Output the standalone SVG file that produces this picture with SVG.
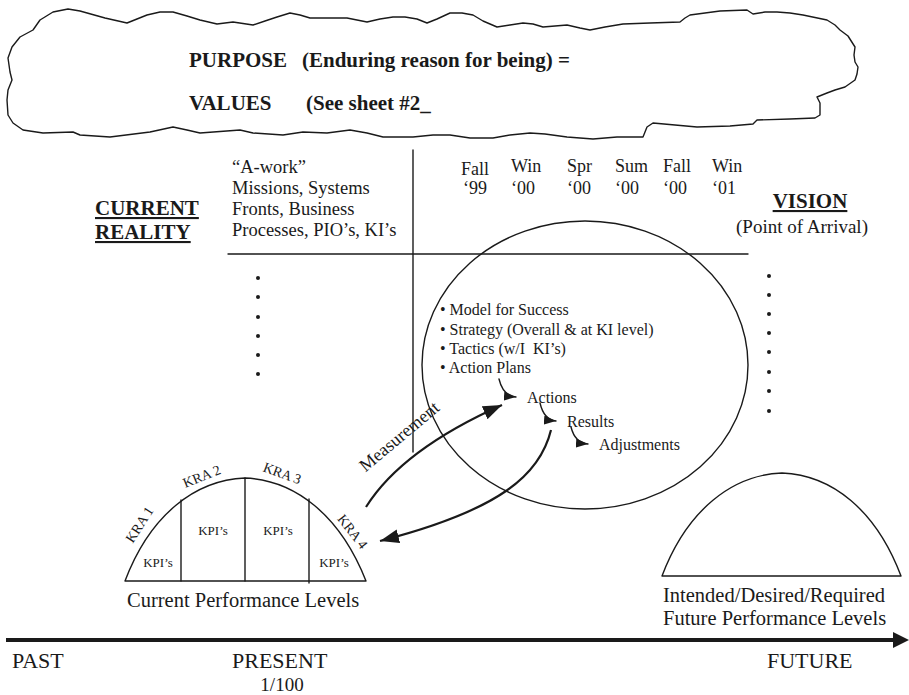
<svg xmlns="http://www.w3.org/2000/svg" width="909" height="695" viewBox="0 0 909 695">
  <style>
    text { font-family: "Liberation Serif", "Times New Roman", serif; fill: #1a1a1a; }
    .b { font-weight: bold; }
    .ln { fill: none; stroke: #1a1a1a; stroke-width: 1.4; stroke-linejoin: round; stroke-linecap: round; }
    .arw { fill: none; stroke: #1a1a1a; stroke-width: 2.2; }
    .dot { fill: #1a1a1a; }
  </style>
  <defs>
    <marker id="headS" markerUnits="userSpaceOnUse" markerWidth="13" markerHeight="10" refX="12" refY="4.5" orient="auto">
      <path d="M0,0 L12,4.5 L0,9 z" fill="#1a1a1a"/>
    </marker>
    <marker id="headL" markerUnits="userSpaceOnUse" markerWidth="20" markerHeight="16" refX="19" refY="7" orient="auto">
      <path d="M0,0 L19,7 L0,14 z" fill="#1a1a1a"/>
    </marker>
  </defs>
  <rect width="909" height="695" fill="#ffffff"/>

  <!-- cloud: purpose and values -->
  <g id="cloud">
    <path class="ln" d="M33,30 L40,20 L53,12 L68,9 L80,11 L105,18 L127,23 L137,19 L147,15 L160,12 L173,12 L187,16 L200,20 L217,24 L233,22 L253,25 L265,21 L277,17 L290,13 L300,15 L310,18 L330,18 L347,18 L357,20 L367,22 L380,19 L393,17 L405,17 L417,19 L427,23 L437,19 L450,13 L462,13 L473,15 L483,21 L497,27 L510,25 L523,23 L533,24 L543,27 L555,26 L567,25 L580,28 L590,30 L605,27 L623,24 L650,23 L680,22 L685,18 L690,15 L720,11 L747,10 L753,14 L765,12 L777,12 L790,13 L803,15 L827,20 L835,25 L840,30 L848,36 L855,47 L854,55 L855,62 L858,67 L857,74 L855,80 L845,87 L835,90 L827,93 L817,97 L820,103 L820,110 L820,115 L815,118 L790,119 L757,120 L753,124 L730,126 L697,127 L675,125 L653,123 L647,127 L643,137 L617,137 L593,139 L567,137 L545,134 L530,133 L510,135 L493,138 L470,138 L450,135 L433,135 L413,137 L383,137 L367,133 L350,130 L327,133 L303,132 L283,135 L253,133 L240,130 L200,133 L187,130 L173,127 L150,132 L110,137 L80,135 L73,132 L43,133 L23,130 L13,123 L8,115 L7,100 L8,90 L12,80 L10,72 L8,58 L12,47 L20,37 Z"/>
    <text class="b" font-size="21" y="67"><tspan x="189">PURPOSE</tspan><tspan x="302">(Enduring reason for being) =</tspan></text>
    <text class="b" font-size="21" y="110"><tspan x="189">VALUES</tspan><tspan x="306">(See sheet #2_</tspan></text>
  </g>

  <!-- axes of the planning grid -->
  <g id="grid">
    <line class="ln" x1="413" y1="150" x2="413" y2="452"/>
    <line class="ln" x1="228" y1="254" x2="748" y2="254"/>
  </g>

  <g id="current-reality">
    <text class="b" font-size="21" x="95" y="215" text-decoration="underline">CURRENT</text>
    <text class="b" font-size="21" x="95" y="239" text-decoration="underline">REALITY</text>
  </g>

  <g id="a-work">
    <text font-size="18.5" x="232" y="173">“A-work”</text>
    <text font-size="18.5" x="232" y="194">Missions, Systems</text>
    <text font-size="18.5" x="232" y="215">Fronts, Business</text>
    <text font-size="18.5" x="232" y="236">Processes, PIO’s, KI’s</text>
  </g>

  <g id="left-dots">
    <circle class="dot" cx="258" cy="278" r="2"/>
    <circle class="dot" cx="258" cy="297" r="2"/>
    <circle class="dot" cx="258" cy="317" r="2"/>
    <circle class="dot" cx="258" cy="336" r="2"/>
    <circle class="dot" cx="258" cy="355" r="2"/>
    <circle class="dot" cx="258" cy="374" r="2"/>
  </g>

  <g id="timeline-labels">
    <text font-size="18" x="461" y="175">Fall</text>
    <text font-size="18" x="511" y="172">Win</text>
    <text font-size="18" x="567" y="172">Spr</text>
    <text font-size="18" x="615" y="172">Sum</text>
    <text font-size="18" x="663" y="172">Fall</text>
    <text font-size="18" x="712" y="172">Win</text>
    <text font-size="18" x="463" y="194">‘99</text>
    <text font-size="18" x="511" y="194">‘00</text>
    <text font-size="18" x="567" y="194">‘00</text>
    <text font-size="18" x="615" y="194">‘00</text>
    <text font-size="18" x="663" y="194">‘00</text>
    <text font-size="18" x="712" y="194">‘01</text>
  </g>

  <g id="vision">
    <text class="b" font-size="21" x="810" y="208" text-anchor="middle" text-decoration="underline">VISION</text>
    <text font-size="19" x="802" y="233" text-anchor="middle">(Point of Arrival)</text>
  </g>

  <g id="right-dots">
    <circle class="dot" cx="769" cy="276" r="2"/>
    <circle class="dot" cx="769" cy="295" r="2"/>
    <circle class="dot" cx="769" cy="314" r="2"/>
    <circle class="dot" cx="769" cy="333" r="2"/>
    <circle class="dot" cx="769" cy="352" r="2"/>
    <circle class="dot" cx="769" cy="372" r="2"/>
    <circle class="dot" cx="769" cy="391" r="2"/>
    <circle class="dot" cx="769" cy="411" r="2"/>
  </g>

  <!-- planning circle -->
  <g id="plan">
    <ellipse class="ln" cx="585" cy="365" rx="163" ry="144"/>
    <text font-size="16" x="440" y="315">• Model for Success</text>
    <text font-size="16" x="440" y="335">• Strategy (Overall &amp; at KI level)</text>
    <text font-size="16" x="440" y="354" xml:space="preserve">• Tactics (w/I  KI’s)</text>
    <text font-size="16" x="440" y="373">• Action Plans</text>
    <text font-size="16" x="527" y="403">Actions</text>
    <text font-size="16" x="567" y="427">Results</text>
    <text font-size="16" x="599" y="450">Adjustments</text>
  </g>

  <!-- current performance arch -->
  <g id="current-levels">
    <path class="ln" d="M125,581 C150,515 195,480 245,478 C295,480 340,515 366,581 Z"/>
    <line class="ln" x1="181" y1="500" x2="181" y2="581"/>
    <line class="ln" x1="245" y1="478" x2="245" y2="581"/>
    <line class="ln" x1="309" y1="499" x2="309" y2="583"/>
    <text font-size="14" text-anchor="middle" transform="translate(140,525) rotate(-57)" y="4">KRA 1</text>
    <text font-size="14" text-anchor="middle" transform="translate(202,477) rotate(-22)" y="4">KRA 2</text>
    <text font-size="14" text-anchor="middle" transform="translate(282,474) rotate(20)" y="4">KRA 3</text>
    <text font-size="14" text-anchor="middle" transform="translate(352,532) rotate(52)" y="4">KRA 4</text>
    <text font-size="13" x="158" y="567" text-anchor="middle">KPI’s</text>
    <text font-size="13" x="213" y="535" text-anchor="middle">KPI’s</text>
    <text font-size="13" x="278" y="535" text-anchor="middle">KPI’s</text>
    <text font-size="13" x="334" y="567" text-anchor="middle">KPI’s</text>
    <text font-size="20.5" x="127" y="607">Current Performance Levels</text>
  </g>

  <!-- future performance arch -->
  <g id="future-levels">
    <path class="ln" d="M662,576 C687,510 732,475 782,473 C832,475 876,510 901,576 Z"/>
    <text font-size="20.5" x="663" y="602">Intended/Desired/Required</text>
    <text font-size="20.5" x="663" y="625">Future Performance Levels</text>
  </g>

  <g id="connectors">
    <path class="ln" d="M499,379 Q503,396 516,397" marker-end="url(#headS)" style="stroke-width:1.4"/>
    <path class="ln" d="M540,403 Q544,420 556,421" marker-end="url(#headS)" style="stroke-width:1.4"/>
    <path class="ln" d="M571,427 Q575,443 588,444" marker-end="url(#headS)" style="stroke-width:1.4"/>
    <path class="arw" d="M366,507 C388,472 428,438 502,405" marker-end="url(#headL)"/>
    <path class="arw" d="M551,430 C540,475 500,510 380,541" marker-end="url(#headL)"/>
    <text font-size="18" text-anchor="middle" transform="translate(403,441) rotate(-40)">Measurement</text>
  </g>

  <!-- time axis -->
  <g id="time-axis">
    <line x1="6" y1="640" x2="893" y2="640" stroke="#1a1a1a" stroke-width="4"/>
    <path d="M893,632 L909,640 L893,648 z" fill="#1a1a1a"/>
    <text font-size="22" x="12" y="668">PAST</text>
    <text font-size="22" x="232" y="668">PRESENT</text>
    <text font-size="19" x="282" y="691" text-anchor="middle">1/100</text>
    <text font-size="22" x="767" y="668">FUTURE</text>
  </g>
</svg>
